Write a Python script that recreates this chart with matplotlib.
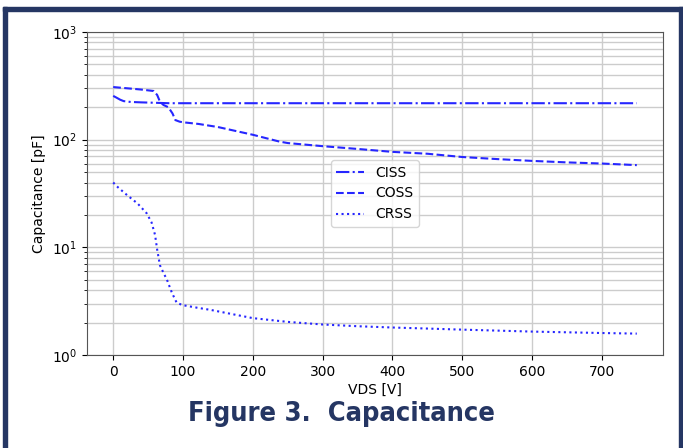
import matplotlib
matplotlib.use('Agg')
import matplotlib.pyplot as plt
from matplotlib.patches import Rectangle

vds_ciss = [0, 5, 10, 15, 25, 40, 60, 80, 100, 150, 200, 300, 400, 500, 600, 700, 750]
ciss = [255, 245, 235, 228, 224, 222, 220, 218, 218, 218, 218, 218, 218, 218, 218, 218, 218]

vds_coss = [0, 20, 40, 58, 63, 67, 72, 79, 85, 89, 95, 100, 122, 150, 200, 238, 250, 300,
            350, 400, 450, 500, 550, 600, 650, 700, 750]
coss = [308, 300, 292, 283, 260, 225, 210, 200, 175, 152, 147, 145, 140, 131, 111, 96, 93, 87,
        82, 77, 74, 69, 66, 63.5, 61.5, 60, 58]

vds_crss = [0, 7, 20, 35, 48, 55, 60, 63, 67, 72, 77, 84, 91, 100, 120, 140, 170, 200, 250,
            300, 350, 400, 450, 500, 600, 700, 750]
crss = [40, 36, 30.5, 25.5, 20.7, 17, 13, 9.5, 6.8, 5.8, 5.0, 3.8, 3.05, 2.9, 2.75, 2.62, 2.4,
        2.2, 2.03, 1.92, 1.85, 1.8, 1.76, 1.72, 1.65, 1.6, 1.58]

navy = '#253663'
blue = '#2626ff'

fig = plt.figure(figsize=(6.83, 4.48), dpi=100)
ax = fig.add_axes([0.1274, 0.2076, 0.8433, 0.721])

ax.plot(vds_ciss, ciss, color=blue, linestyle='-.', linewidth=1.5, label='CISS')
ax.plot(vds_coss, coss, color=blue, linestyle='--', linewidth=1.5, label='COSS')
ax.plot(vds_crss, crss, color=blue, linestyle=':', linewidth=1.5, label='CRSS')

ax.set_yscale('log')
ax.set_ylim(1, 1000)
ax.set_xlim(-37.5, 787.5)
ax.set_xticks([0, 100, 200, 300, 400, 500, 600, 700])
ax.grid(True, which='major', color='#cccccc', linewidth=1.0)
ax.grid(True, which='minor', color='#cccccc', linewidth=1.0)
ax.tick_params(labelsize=10)
for s in ax.spines.values():
    s.set_color('#555555')

ax.set_xlabel('VDS [V]', fontsize=10, labelpad=3)
ax.set_ylabel('Capacitance [pF]', fontsize=10)
ax.legend(loc='center', fontsize=10, handlelength=2.0)

fig.text(0.5, 0.075, 'Figure 3.  Capacitance', ha='center', va='center',
         fontsize=19.5, fontweight='bold', color=navy, fontstretch='condensed',
         family=['DejaVu Sans'])

# frame around the figure (left, top, right)
W, H = 683.0, 448.0
fig.add_artist(Rectangle((3 / W, 0), 4 / W, 1 - 7 / H, transform=fig.transFigure,
                         color=navy, zorder=10))
fig.add_artist(Rectangle((3 / W, 1 - 11 / H), 1 - 3 / W, 4 / H, transform=fig.transFigure,
                         color=navy, zorder=10))
fig.add_artist(Rectangle((679 / W, 0), 4 / W, 1 - 7 / H, transform=fig.transFigure,
                         color=navy, zorder=10))

fig.savefig('out.png', dpi=100)
